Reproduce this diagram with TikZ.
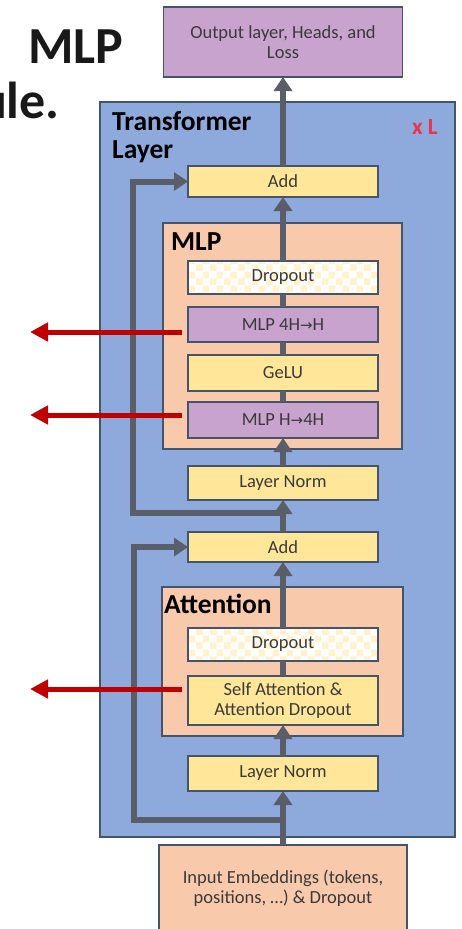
\documentclass[tikz,border=0pt]{standalone}
\usepackage{fontspec}
\setmainfont{Carlito}
\newfontfamily\arrowfont{DejaVu Sans}
\usetikzlibrary{arrows.meta, positioning, calc, backgrounds, fit, patterns}
\definecolor{slate}{HTML}{44546A}
\definecolor{layerblue}{HTML}{8EA9DC}
\definecolor{peach}{HTML}{F8CAAB}
\definecolor{sand}{HTML}{FFE699}
\definecolor{lilac}{HTML}{C7A3CD}
\definecolor{flowgray}{HTML}{5A5E68}
\definecolor{tapred}{HTML}{C00000}
\definecolor{repeatred}{HTML}{E8344E}
\definecolor{ink}{HTML}{3A3A3A}

% arrow between the hidden sizes
\newcommand{\dimto}{{\arrowfont\fontsize{15}{18}\selectfont →}}

% light chequer used for the dropout blocks
\pgfdeclarepatternformonly{chequer}{\pgfpointorigin}{\pgfqpoint{14pt}{14pt}}{\pgfqpoint{14pt}{14pt}}{%
  \pgfpathrectangle{\pgfpointorigin}{\pgfqpoint{7pt}{7pt}}%
  \pgfpathrectangle{\pgfqpoint{7pt}{7pt}}{\pgfqpoint{7pt}{7pt}}%
  \pgfusepath{fill}}

\begin{document}
\begin{tikzpicture}[
  x=1pt, y=-1pt,
  block/.style={draw=slate, line width=1.5pt, outer sep=0pt, minimum width=190pt,
                font=\fontsize{18.5}{20}\selectfont, text=ink, align=center, inner sep=2pt},
  normbox/.style={block, fill=sand},
  linbox/.style={block, fill=lilac},
  dropbox/.style={block, preaction={fill=white}, pattern=chequer, pattern color=sand!50},
  frame/.style={draw=slate, line width=1.5pt, inner sep=0pt},
  heading/.style={font=\fontsize{27.5}{28}\selectfont\bfseries, inner sep=0pt},
  flow/.style={draw=flowgray, line width=6pt, -{Triangle[length=14pt, width=18pt]}},
  tie/.style={draw=flowgray, line width=6pt},
  tap/.style={draw=tapred, line width=5pt, -{Triangle[length=18pt, width=18pt]}}
]
  \useasboundingbox (0,0) rectangle (462,929);

  % Caption
  \node[font=\fontsize{52}{56}\selectfont\bfseries, text=black!90, anchor=base west, inner sep=0pt]
    (caption) at (28,63) {MLP};
  \node[font=\fontsize{52}{56}\selectfont\bfseries, text=black!90, anchor=base east, inner sep=0pt]
    (captiontail) at (60,118) {ule.};

  % Main stack, bottom to top
  \node[block, fill=peach, minimum width=248pt, minimum height=86pt] (embed) at (283,888)
    {Input Embeddings (tokens,\\positions, …) \& Dropout};
  \node[normbox, minimum height=35pt, above=54pt of embed] (normA) {Layer Norm};
  \node[normbox, minimum height=49pt, above=31pt of normA] (selfatt) {Self Attention \&\\Attention Dropout};
  \node[dropbox, minimum height=33pt, above=15pt of selfatt] (dropA) {Dropout};
  \node[normbox, minimum height=30pt, above=66pt of dropA] (addA) {Add};
  \node[normbox, minimum height=34pt, above=32pt of addA] (normM) {Layer Norm};
  \node[linbox, minimum height=36pt, above=28pt of normM] (mlpup) {MLP H\dimto 4H};
  \node[normbox, minimum height=36pt, above=11pt of mlpup] (gelu) {GeLU};
  \node[linbox, minimum height=35pt, above=13pt of gelu] (mlpdown) {MLP 4H\dimto H};
  \node[dropbox, minimum height=33pt, above=13pt of mlpdown] (dropM) {Dropout};
  \node[normbox, minimum height=31pt, above=64pt of dropM] (addM) {Add};
  \node[linbox, minimum width=239pt, minimum height=70pt, above=89pt of addM] (out)
    {Output layer, Heads, and\\Loss};

  % Frames
  \begin{scope}[on background layer]
    \node[frame, fill=layerblue, fit={(100,102) (455,837)}] (layer) {};
    \node[frame, fill=peach, fit={($(dropM.north west)+(-25,-38)$) ($(mlpup.south east)+(24,11)$)}] (mlp) {};
    \node[frame, fill=peach, fit={($(dropA.north west)+(-26,-41)$) ($(selfatt.south east)+(25,11)$)}] (attn) {};
  \end{scope}

  \node[heading, anchor=north west, align=left] (layertitle) at (112,111) {Transformer\\Layer};
  \node[font=\fontsize{23}{24}\selectfont\bfseries, text=repeatred, anchor=base west, inner sep=0pt]
    (repeats) at (412,134) {x L};
  \node[heading, anchor=base west] (mlptitle) at (171,250) {MLP};
  \node[heading, anchor=base west] (attntitle) at (164,613) {Attention};

  % Residual stream
  \coordinate (forkA) at ($(embed.north)!0.46!(normA.south)$);
  \coordinate (forkM) at ($(addA.north)!0.6!(normM.south)$);

  \draw[flow] (embed) -- (normA);
  \draw[flow] (normA) -- (selfatt);
  \draw[tie] (selfatt) -- (dropA);
  \draw[flow] (dropA) -- (addA);
  \draw[flow] (addA) -- (normM);
  \draw[flow] (normM) -- (mlpup);
  \draw[tie] (mlpup) -- (gelu);
  \draw[tie] (gelu) -- (mlpdown);
  \draw[tie] (mlpdown) -- (dropM);
  \draw[flow] (dropM) -- (addM);
  \draw[flow] (addM) -- (out);

  \draw[flow] (forkA) -| ([xshift=-54pt]addA.west) -- (addA.west);
  \draw[flow] (forkM) -| ([xshift=-55pt]addM.west) -- (addM.west);

  % Outgoing taps
  \coordinate (tapDown) at (30,332);
  \coordinate (tapUp) at (30,415);
  \coordinate (tapAttn) at (30,689);
  \draw[tap, shorten <=6pt] (mlpdown.west |- tapDown) -- (tapDown);
  \draw[tap, shorten <=6pt] (mlpup.west |- tapUp) -- (tapUp);
  \draw[tap, shorten <=6pt] (selfatt.west |- tapAttn) -- (tapAttn);
\end{tikzpicture}
\end{document}
